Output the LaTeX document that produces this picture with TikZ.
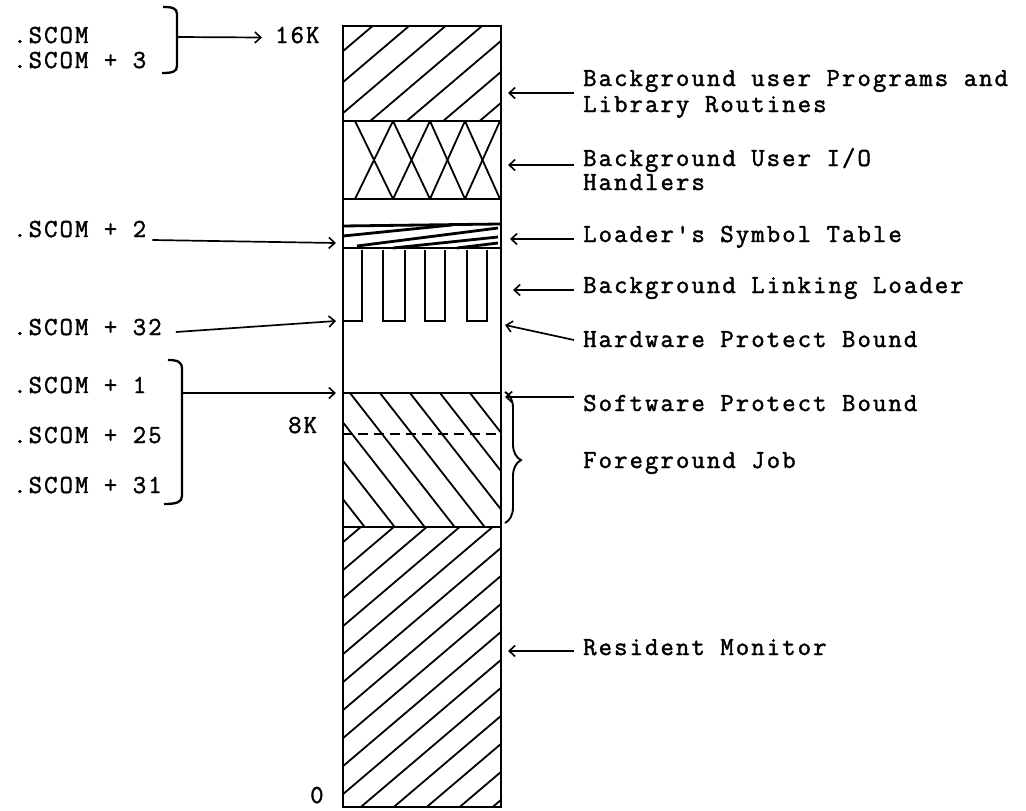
\documentclass[tikz,border=0pt]{standalone}
\usepackage{fontspec}
\newfontfamily\courfont{Latin Modern Mono}[LetterSpace=8, FakeBold=1.6]
\usetikzlibrary{arrows.meta,decorations.pathreplacing}
\begin{document}
\begin{tikzpicture}[x=1pt,y=-1pt,
  txt/.style={font=\courfont\fontsize{26}{27}\selectfont, inner sep=0pt, text height=16pt, text depth=5pt, anchor=base west},
  rlbl/.style={txt, inner xsep=9pt},
  arr/.style={line width=1.7pt, -{Straight Barb[length=6pt,width=11pt,line width=1.6pt]}},
  box/.style={line width=2.3pt},
  thick box/.style={line width=2.8pt},
  hatch/.style={line width=1.8pt}]
\useasboundingbox (0,0) rectangle (1026,811);

% ---------- memory column ----------
\node[draw, box, minimum width=158pt, minimum height=781pt, anchor=north west, inner sep=0pt] (col) at (342,25) {};

% top region: background user programs
\begin{scope}
  \clip (342,25) rectangle (500,121);
  \foreach \c in {52,83,...,269} \draw[hatch] (342,\c) -- ++(250,-212.5);
\end{scope}
\draw[box] (342,121) -- (500,121);

% I/O handlers cross-hatch
\foreach \a/\b in {355/393,393/430,430/465,465/500} {
  \draw[hatch] (\a,121) -- (\b,199);
  \draw[hatch] (\b,121) -- (\a,199);
}
\draw[thick box] (342,199) -- (500,199);
\draw[thick box] (342,226) -- (500,224);

% loader's symbol table
\draw[thick box] (343,236) -- (452,225);
\draw[thick box] (357,246) -- (498,228);
\draw[thick box] (393,248) -- (498,237);
\draw[thick box] (457,248) -- (498,243);
\draw[box] (342,248) -- (500,248);

% linking loader teeth
\draw[box] (342,321) -- (362,321) -- (362,250);
\draw[box] (383,250) -- (383,321) -- (405,321) -- (405,250);
\draw[box] (425,250) -- (425,321) -- (445,321) -- (445,250);
\draw[box] (467,250) -- (467,321) -- (487,321) -- (487,250);

% foreground job
\draw[box] (342,393) -- (500,393);
\begin{scope}
  \clip (342,393) rectangle (500,527);
  \foreach \x in {260,290,...,470} \draw[hatch] (\x,393) -- ++(200,256);
\end{scope}
\draw[line width=1.4pt, dash pattern=on 10pt off 6pt] (342,434) -- (500,434);
\draw[box] (342,527) -- (500,527);

% resident monitor
\begin{scope}
  \clip (342,527) rectangle (500,806);
  \foreach \c in {543,571,...,935} \draw[hatch] (342,\c) -- ++(250,-212.5);
\end{scope}

% ---------- right labels ----------
\node[rlbl] (bup)   at (574,86)  {Background user Programs and};
\node[rlbl] (bup2)  at (574,112) {Library Routines};
\node[rlbl] (buio)  at (574,166) {Background User I/O};
\node[rlbl] (buio2) at (574,190) {Handlers};
\node[rlbl] (lst)   at (574,242) {Loader\char39 s Symbol Table};
\node[rlbl] (bll)   at (574,293) {Background Linking Loader};
\node[rlbl] (hpb)   at (574,347) {Hardware Protect Bound};
\node[rlbl] (spb)   at (574,411) {Software Protect Bound};
\node[rlbl] (fgj)   at (574,468) {Foreground Job};
\node[rlbl] (rm)    at (574,655) {Resident Monitor};

\coordinate (tbup) at (508,93);
\coordinate (tbuio) at (508,165);
\coordinate (tlst) at (510,239);
\coordinate (tbll) at (513,290);
\coordinate (thpb) at (505,325);
\coordinate (tspb) at (505,397);
\coordinate (trm) at (508,651);

\draw[arr] ([yshift=-12.5pt]bup.west) -- (tbup);
\draw[arr] ([yshift=-4.5pt]buio.west) -- (tbuio);
\draw[arr] ([yshift=-2.5pt]lst.west) -- (tlst);
\draw[arr] ([yshift=-2.5pt]bll.west) -- (tbll);
\draw[arr] ([yshift=1.5pt]hpb.west) -- (thpb);
\draw[arr] ([yshift=8.5pt]spb.west) -- (tspb);
\draw[arr] ([yshift=-1.5pt]rm.west) -- (trm);

\draw[line width=1.9pt, decorate, decoration={brace, amplitude=16pt, aspect=0.52}] (505,392) -- (505,523);

% ---------- left labels ----------
\node[txt] (s0)  at (13,43)  {.SCOM};
\node[txt] (s3)  at (13,68)  {.SCOM + 3};
\node[txt] (k16) at (275,43) {16K};
\draw[box] (163,7) .. controls (172,7) and (177,8) .. (177,14) -- (177,66) .. controls (177,72) and (172,73) .. (162,73);
\coordinate (b1) at (177,37);
\draw[arr] (b1) -- ([xshift=-13pt]k16.west);

\node[txt] (s2)  at (13,237) {.SCOM + 2};
\coordinate (ts2) at (336,243);
\draw[arr] ([xshift=6pt,yshift=-8.5pt]s2.east) -- (ts2);

\node[txt] (s32) at (13,335) {.SCOM + 32};
\coordinate (ts32) at (336,321);
\draw[arr] ([xshift=14pt,yshift=-2.5pt]s32.east) -- (ts32);

\node[txt] (s1)  at (13,393) {.SCOM + 1};
\node[txt] (s25) at (13,443) {.SCOM + 25};
\node[txt] (s31) at (13,493) {.SCOM + 31};
\draw[box] (168,360) .. controls (178,360) and (182,362) .. (182,369) -- (182,496) .. controls (182,502) and (177,504) .. (164,504);
\coordinate (b2) at (182,393);
\coordinate (t2) at (336,393);
\draw[arr] (b2) -- (t2);

\node[txt] (k8) at (288,433) {8K};
\node[txt] (k0) at (310,803) {0};
\end{tikzpicture}
\end{document}
